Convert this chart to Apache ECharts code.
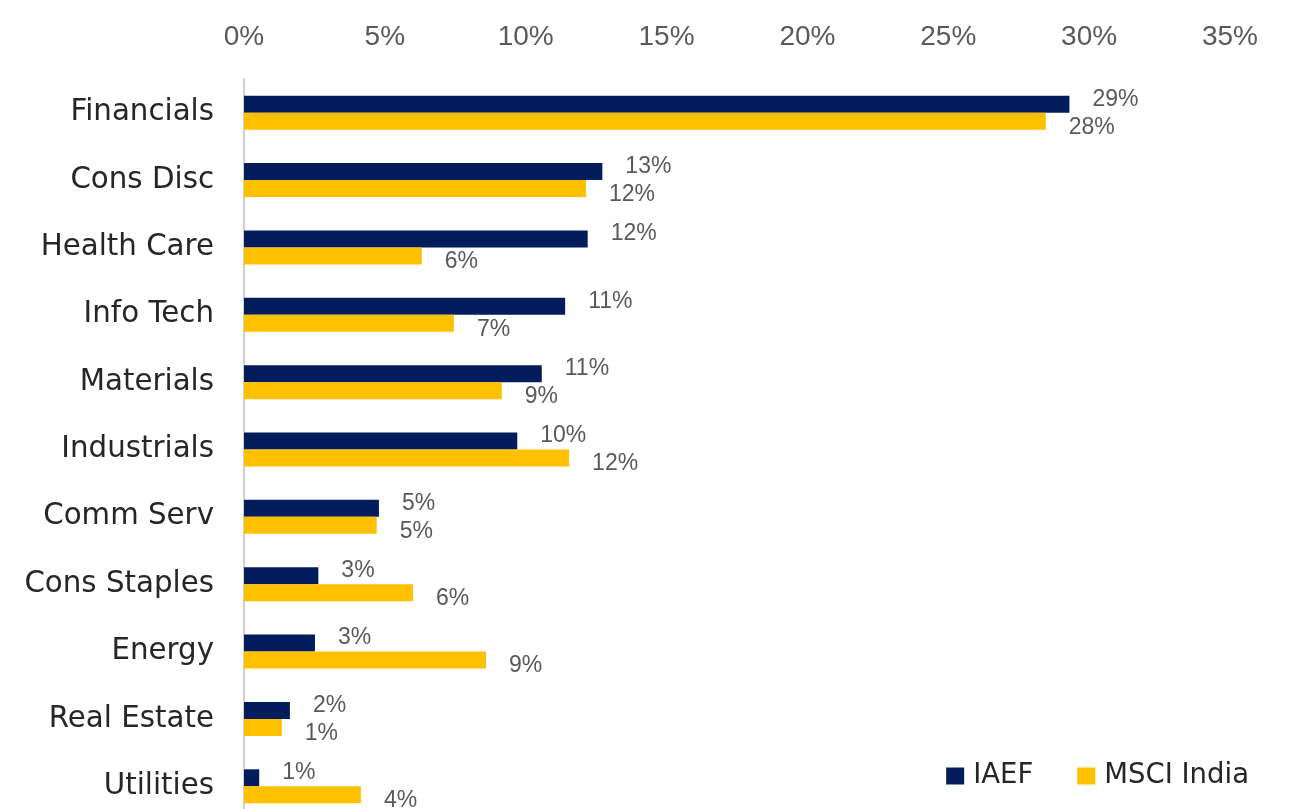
<!DOCTYPE html>
<html>
<head>
<meta charset="utf-8">
<script src="https://cdn.jsdelivr.net/npm/echarts@6/dist/echarts.min.js"></script>
<style>
  html, body { margin: 0; padding: 0; background: #fff; overflow: hidden; }
  /* 图表底部被截断，所以画布比窗口略高 */
  #mychart { width: 1292px; height: 820px; }
</style>
</head>
<body>
<div id="mychart"></div>
<script>
// 行业分类（从上到下）
const sectors = ['Financials', 'Cons Disc', 'Health Care', 'Info Tech', 'Materials', 'Industrials',
    'Comm Serv', 'Cons Staples', 'Energy', 'Real Estate', 'Utilities'];
// 权重 %
const iaef = [29.3, 12.72, 12.2, 11.4, 10.57, 9.7, 4.79, 2.64, 2.52, 1.63, 0.54];
const msciIndia = [28.46, 12.14, 6.31, 7.45, 9.15, 11.54, 4.71, 6.0, 8.59, 1.34, 4.15];
const xTicks = [0, 5, 10, 15, 20, 25, 30, 35];

const navy = '#031c5c';
const gold = '#ffc000';

const myChart = echarts.init(document.getElementById('mychart'));

const labelStyle = (dy) => ({
    show: true,
    position: 'right',
    distance: 23,
    offset: [0, dy],
    color: '#595959',
    fontFamily: 'Liberation Sans, Arial, sans-serif',
    fontSize: 23,
    formatter: p => Math.round(p.value) + '%'
});

myChart.setOption({
    animation: false,
    grid: { left: 244, right: 62, top: 79, bottom: 0, containLabel: false },
    legend: {
        right: 38,
        top: 757,
        itemWidth: 18,
        itemHeight: 17,
        itemGap: 44,
        icon: 'rect',
        textStyle: { fontFamily: 'DejaVu Sans, sans-serif', fontSize: 27.5, color: '#262626', padding: [0, 0, 0, 4] },
        data: ['IAEF', 'MSCI India']
    },
    xAxis: {
        type: 'value',
        position: 'top',
        min: xTicks[0],
        max: xTicks[xTicks.length - 1],
        interval: 5,
        axisLine: { show: false },
        axisTick: { show: false },
        splitLine: { show: false },
        axisLabel: {
            margin: 28,
            color: '#595959',
            fontFamily: 'Liberation Sans, Arial, sans-serif',
            fontSize: 28,
            formatter: '{value}%'
        }
    },
    yAxis: {
        type: 'category',
        inverse: true,
        data: sectors,
        axisLine: { show: true, lineStyle: { color: '#d0d0d0', width: 2 } },
        axisTick: { show: false },
        axisLabel: {
            margin: 30,
            color: '#262626',
            fontFamily: 'DejaVu Sans, sans-serif',
            fontSize: 29.3
        }
    },
    series: [
        {
            name: 'IAEF',
            type: 'bar',
            data: iaef,
            barWidth: 17,
            barGap: '0%',
            itemStyle: { color: navy },
            label: labelStyle(-5)
        },
        {
            name: 'MSCI India',
            type: 'bar',
            data: msciIndia,
            barWidth: 17,
            itemStyle: { color: gold },
            label: labelStyle(6)
        }
    ]
});

window.addEventListener('resize', () => myChart.resize());
</script>
</body>
</html>
